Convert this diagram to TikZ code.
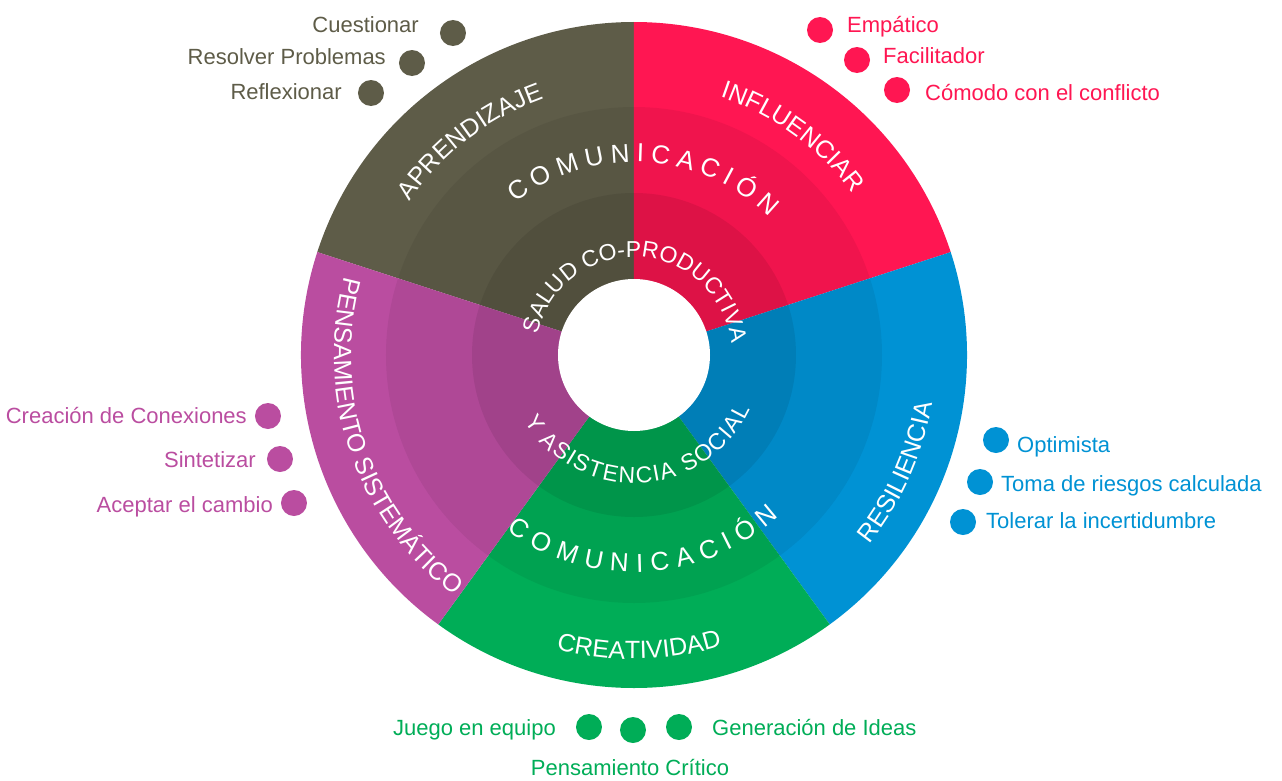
\documentclass[tikz,border=0pt]{standalone}
\usepackage{fontspec}
\setmainfont{Liberation Sans}
\usepackage{tikz}
\usetikzlibrary{decorations.text}
\definecolor{apr}{RGB}{94,92,72}
\definecolor{inf}{RGB}{255,22,82}
\definecolor{res}{RGB}{0,146,212}
\definecolor{cre}{RGB}{0,173,87}
\definecolor{pen}{RGB}{186,77,160}
\newcommand{\ringfont}{\fontsize{25}{30}\selectfont}
\newcommand{\comfont}{\fontsize{26}{30}\selectfont}
\newcommand{\innerfont}{\fontsize{23}{27}\selectfont}
\tikzset{
	bullet/.style={circle,fill=#1,minimum size=26pt,inner sep=0pt},
	lbl/.style={text=#1,inner sep=0pt,font=\fontsize{22}{26}\selectfont},
	ringtext/.style={decorate,decoration={text along path,text align=center,text={|\ringfont\color{white}|#1}}},
	fittext/.style 2 args={decorate,decoration={text along path,text align={fit to path},text={|#1\color{white}|#2}}},
}
\begin{document}
\begin{tikzpicture}[x=1pt,y=1pt]
	\useasboundingbox (-634,-425) rectangle (648,355);
	\foreach \a/\c in {90/apr,18/inf,-54/res,-126/cre,162/pen}{
		\fill[\c] (0,0) -- (\a:333) arc[start angle=\a,delta angle=72,radius=333] -- cycle;
	}
	\fill[black,opacity=0.06] (0,0) circle[radius=248];
	\fill[black,opacity=0.08] (0,0) circle[radius=162];
	\fill[white] (0,0) circle[radius=76];

	\path[ringtext=APRENDIZAJE] (167.5:272) arc[start angle=167.5,end angle=87.5,radius=272];
	\path[ringtext=INFLUENCIAR] (94:272) arc[start angle=94,end angle=14,radius=272];
	\path[ringtext=RESILIENCIA] (-64:302) arc[start angle=-64,end angle=16,radius=302];
	\path[ringtext=CREATIVIDAD] (231:304) arc[start angle=231,end angle=311,radius=304];
	\path[ringtext=PENSAMIENTO SISTEMÁTICO] (149:300) arc[start angle=149,end angle=249,radius=300];
	\path[fittext={\comfont}{COMUNICACIÓN}] (128:193) arc[start angle=128,end angle=45.5,radius=193];
	\path[fittext={\comfont}{COMUNICACIÓN}] (234:217) arc[start angle=234,end angle=312,radius=217];
	\path[fittext={\innerfont}{SALUD CO-PRODUCTIVA}] (168:98) arc[start angle=168,end angle=11,radius=98];
	\path[fittext={\innerfont}{Y ASISTENCIA SOCIAL}] (211:128) arc[start angle=211,end angle=335,radius=128];

	\node[bullet=apr] (cues) at (-181,322) {};
	\node[bullet=apr] (reso) at (-222,292) {};
	\node[bullet=apr] (refl) at (-263,262) {};
	\node[lbl=apr,anchor=base east] (cuestxt) at (-215,323) {Cuestionar};
	\node[lbl=apr,anchor=base east] (resotxt) at (-248,291) {Resolver Problemas};
	\node[lbl=apr,anchor=base east] (refltxt) at (-292,256) {Reflexionar};

	\node[bullet=inf] (empa) at (186,325) {};
	\node[bullet=inf] (faci) at (223,295) {};
	\node[bullet=inf] (como) at (263,265) {};
	\node[lbl=inf,anchor=base west] (empatxt) at (213,323) {Empático};
	\node[lbl=inf,anchor=base west] (facitxt) at (249,292) {Facilitador};
	\node[lbl=inf,anchor=base west] (comotxt) at (291,255) {Cómodo con el conflicto};

	\node[bullet=res] (opti) at (362,-85) {};
	\node[bullet=res] (toma) at (346,-127) {};
	\node[bullet=res] (tole) at (329,-167) {};
	\node[lbl=res,anchor=base west] (optitxt) at (383,-97) {Optimista};
	\node[lbl=res,anchor=base west] (tomatxt) at (367,-136) {Toma de riesgos calculada};
	\node[lbl=res,anchor=base west] (toletxt) at (352,-173) {Tolerar la incertidumbre};

	\node[bullet=cre] (jueg) at (-45,-372) {};
	\node[bullet=cre] (pens) at (-1,-375) {};
	\node[bullet=cre] (gene) at (45,-372) {};
	\node[lbl=cre,anchor=base east] (juegtxt) at (-78,-380) {Juego en equipo};
	\node[lbl=cre,anchor=base west] (genetxt) at (78,-380) {Generación de Ideas};
	\node[lbl=cre,anchor=base] (penstxt) at (-4,-420) {Pensamiento Crítico};

	\node[bullet=pen] (crea) at (-366,-61) {};
	\node[bullet=pen] (sint) at (-354,-104) {};
	\node[bullet=pen] (acep) at (-340,-148) {};
	\node[lbl=pen,anchor=base east] (creatxt) at (-387,-68) {Creación de Conexiones};
	\node[lbl=pen,anchor=base east] (sinttxt) at (-378,-112) {Sintetizar};
	\node[lbl=pen,anchor=base east] (aceptxt) at (-361,-157) {Aceptar el cambio};
\end{tikzpicture}
\end{document}
